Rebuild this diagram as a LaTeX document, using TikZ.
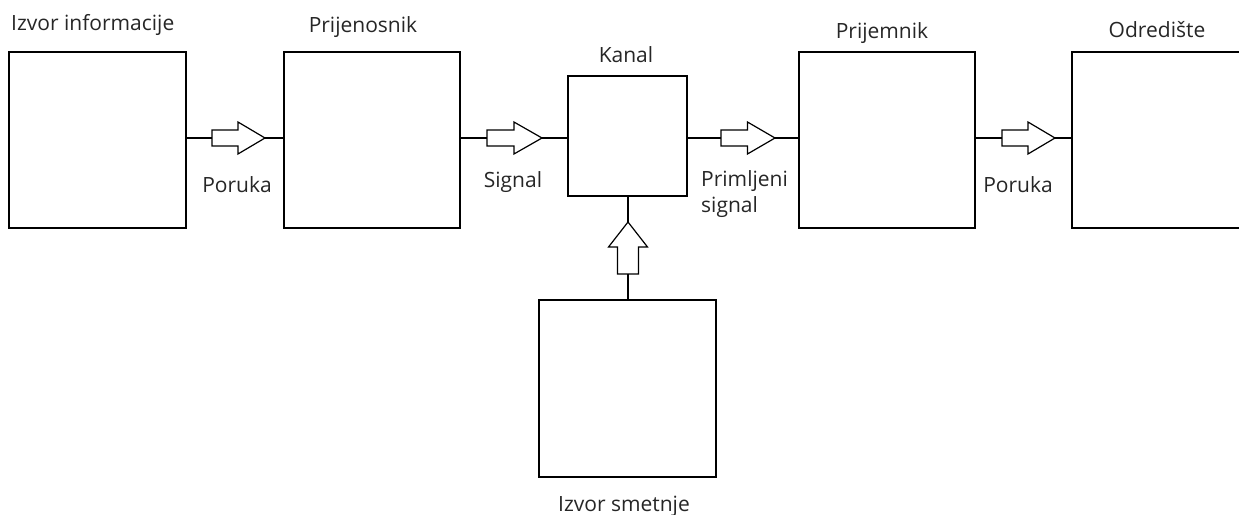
\documentclass[tikz,border=0pt]{standalone}
\usepackage{fontspec}
\setmainfont{Open Sans}
\usetikzlibrary{calc}
\begin{document}
\begin{tikzpicture}[x=1pt,y=-1pt,
  blk/.style={draw, line width=1.5pt, inner sep=0pt},
  lbl/.style={text=black!85, font=\fontsize{21}{26}\selectfont, inner sep=0pt},
  conn/.style={line width=1.5pt},
  hollow/.style={line width=1.2pt, line join=miter}]
\useasboundingbox (0,0) rectangle (1239,514);
% boxes
\node[blk, minimum width=177pt, minimum height=176pt] (izvor) at (97.5,140) {};
\node[blk, minimum width=176pt, minimum height=176pt] (prijenosnik) at (372,140) {};
\node[blk, minimum width=119pt, minimum height=120pt] (kanal) at (627.5,136) {};
\node[blk, minimum width=176pt, minimum height=176pt] (prijemnik) at (887,140) {};
\node[blk, minimum width=177pt, minimum height=177pt] (smetnja) at (627.5,388.5) {};
\node[minimum width=200pt, minimum height=176pt, inner sep=0pt] (odrediste) at (1172,140) {};
\draw[line width=1.5pt] (odrediste.north east) -- (odrediste.north west) -- (odrediste.south west) -- (odrediste.south east);
% labels
\node[lbl, anchor=base west] (tizvor) at (11,30) {Izvor informacije};
\node[lbl, anchor=base] (tprijenosnik) at (363,32) {Prijenosnik};
\node[lbl, anchor=base] (tkanal) at (626,62) {Kanal};
\node[lbl, anchor=base] (tprijemnik) at (882,38) {Prijemnik};
\node[lbl, anchor=base] (todrediste) at (1157,37) {Odredište};
\node[lbl, anchor=base] (tporuka1) at (237,192) {Poruka};
\node[lbl, anchor=base] (tsignal) at (513,187) {Signal};
\node[lbl, anchor=base west, align=left] (tprim) at (701,212) {Primljeni\\signal};
\node[lbl, anchor=base] (tporuka2) at (1018,192) {Poruka};
\node[lbl, anchor=base] (tsmetnja) at (624,511) {Izvor smetnje};
% arrow tail/tip coordinates
\coordinate (a1t) at (212,138); \coordinate (a1h) at (265,138);
\coordinate (a2t) at (487,138); \coordinate (a2h) at (542,138);
\coordinate (a3t) at (721,138); \coordinate (a3h) at (775,138);
\coordinate (a4t) at (1002,138); \coordinate (a4h) at (1055,138);
\coordinate (a5t) at (628,274); \coordinate (a5h) at (628,222);
% connector lines
\draw[conn] (izvor.east |- a1t) -- (a1t);
\draw[conn] (a1h) -- (prijenosnik.west |- a1h);
\draw[conn] (prijenosnik.east |- a2t) -- (a2t);
\draw[conn] (a2h) -- (kanal.west |- a2h);
\draw[conn] (kanal.east |- a3t) -- (a3t);
\draw[conn] (a3h) -- (prijemnik.west |- a3h);
\draw[conn] (prijemnik.east |- a4t) -- (a4t);
\draw[conn] (a4h) -- (odrediste.west |- a4h);
\draw[conn] (smetnja.north -| a5t) -- (a5t);
\draw[conn] (a5h) -- (kanal.south -| a5h);
% hollow arrows (horizontal)
\foreach \t/\h in {a1t/a1h, a2t/a2h, a3t/a3h, a4t/a4h}{
  \draw[hollow] ($(\t)+(0,-8)$) -- ($(\t)!0.49!(\h)+(0,-8)$) -- ($(\t)!0.49!(\h)+(0,-16)$)
    -- (\h) -- ($(\t)!0.49!(\h)+(0,16)$) -- ($(\t)!0.49!(\h)+(0,8)$) -- ($(\t)+(0,8)$) -- cycle;
}
% vertical hollow arrow
\draw[hollow] ($(a5t)+(-10.5,0)$) -- ($(a5t)+(-10.5,-27)$) -- ($(a5t)+(-19.5,-27)$)
  -- (a5h) -- ($(a5t)+(19.5,-27)$) -- ($(a5t)+(10.5,-27)$) -- ($(a5t)+(10.5,0)$) -- cycle;
\end{tikzpicture}
\end{document}
